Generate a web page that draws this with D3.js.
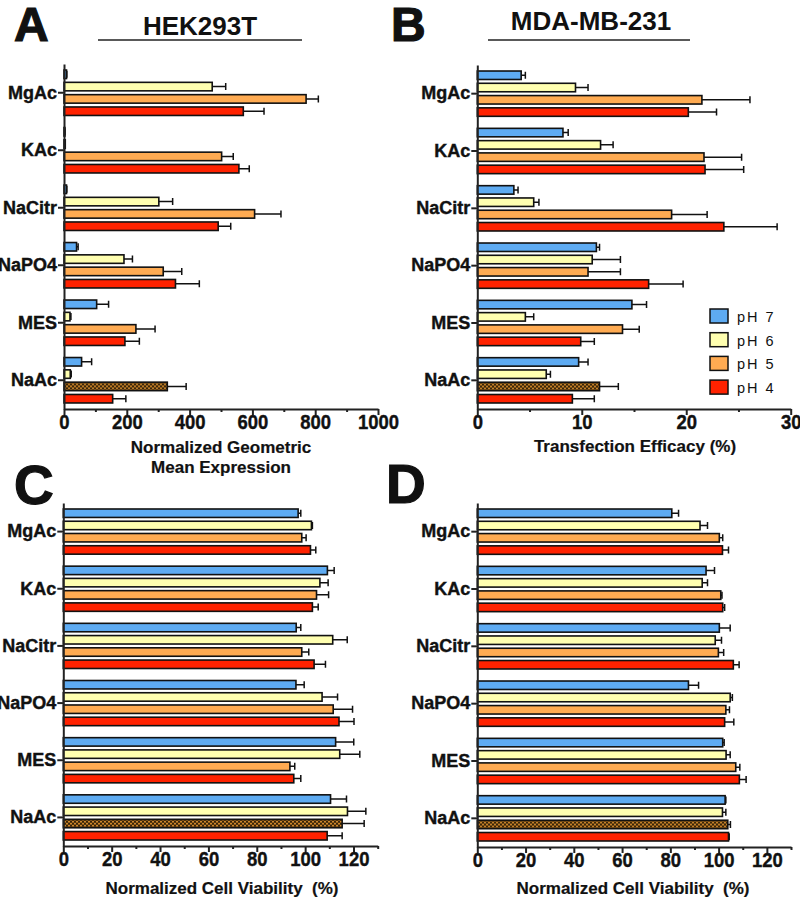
<!DOCTYPE html>
<html>
<head>
<meta charset="utf-8">
<script src="https://cdn.jsdelivr.net/npm/d3@7"></script>
<style>
body { margin: 0; background: #fff; }
svg text { font-family: "Liberation Sans", Arial, Helvetica, sans-serif; fill: #111; white-space: pre; }
</style>
</head>
<body>
<svg id="fig" width="800" height="902"></svg>
<script>
var categories = ["MgAc", "KAc", "NaCitr", "NaPO4", "MES", "NaAc"];
var phLabels = ["pH 7", "pH 6", "pH 5", "pH 4"];
var phColors = ["#5eabf2", "#ffffb0", "#ffab52", "#ff2200"];

// one row per category, columns are pH 7, 6, 5, 4
var hekExpr = [
    [8, 472, 771, 571],
    [3, 4, 502, 557],
    [8, 302, 607, 491],
    [40, 191, 316, 355],
    [104, 19, 229, 194],
    [56, 20, 329, 155]
];
var hekExprSd = [
    [1, 43, 39, 66],
    [0, 0, 37, 33],
    [1, 44, 84, 40],
    [5, 27, 59, 76],
    [38, 3, 61, 46],
    [32, 3, 60, 42]
];

var mdaEff = [
    [4.2, 9.4, 21.5, 20.2],
    [8.2, 11.8, 21.7, 21.8],
    [3.5, 5.4, 18.6, 23.6],
    [11.4, 11.0, 10.6, 16.4],
    [14.8, 4.6, 13.9, 9.9],
    [9.7, 6.6, 11.7, 9.1]
];
var mdaEffSd = [
    [0.4, 1.2, 4.6, 2.7],
    [0.5, 1.2, 3.6, 3.7],
    [0.4, 0.5, 3.4, 5.1],
    [0.3, 2.7, 3.1, 3.3],
    [1.4, 0.8, 1.6, 1.3],
    [0.9, 0.4, 1.8, 2.1]
];

var hekViab = [
    [97.1, 102.6, 98.6, 102.2],
    [109.2, 106.1, 104.7, 103.0],
    [96.3, 111.4, 98.6, 103.7],
    [96.2, 107.0, 111.6, 114.0],
    [112.6, 114.3, 93.7, 95.3],
    [110.5, 117.5, 115.3, 109.1]
];
var hekViabSd = [
    [1.1, 0.4, 1.8, 2.2],
    [2.8, 3.4, 5.0, 2.4],
    [1.9, 6.0, 2.9, 4.7],
    [3.4, 6.4, 8.0, 6.2],
    [7.5, 8.3, 2.0, 2.9],
    [6.6, 7.6, 9.1, 6.2]
];

var mdaViab = [
    [80.6, 92.3, 100.3, 101.6],
    [94.8, 93.2, 100.9, 101.7],
    [100.3, 98.6, 99.9, 106.1],
    [87.5, 104.8, 103.0, 102.5],
    [101.7, 103.1, 107.1, 108.6],
    [102.7, 101.6, 103.8, 104.1]
];
var mdaViabSd = [
    [2.8, 3.1, 1.4, 2.5],
    [3.5, 2.2, 0.5, 0.8],
    [4.5, 2.6, 2.2, 2.4],
    [4.2, 0.9, 1.5, 3.8],
    [0.6, 1.7, 1.7, 2.8],
    [0.3, 1.4, 1.1, 0.3]
];

var exprTicks = [0, 200, 400, 600, 800, 1000];
var exprMinor = [100, 300, 500, 700, 900];
var effTicks = [0, 10, 20, 30];
var effMinor = [5, 15, 25];
var viabTicks = [0, 20, 40, 60, 80, 100, 120];
var viabMinor = [10, 30, 50, 70, 90, 110, 130];

var svg = d3.select("#fig");

// dark checkered fill used for the NaAc pH 5 bar
var pat = svg.append("defs").append("pattern")
    .attr("id", "hatch")
    .attr("patternUnits", "userSpaceOnUse")
    .attr("width", 4).attr("height", 4);
pat.append("rect").attr("width", 4).attr("height", 4).attr("fill", "#3a2508");
pat.append("rect").attr("x", 0).attr("y", 0).attr("width", 2).attr("height", 1.6).attr("fill", "#d98e2e");
pat.append("rect").attr("x", 2).attr("y", 2).attr("width", 2).attr("height", 1.6).attr("fill", "#d98e2e");

function drawPanel(o) {
    var g = svg.append("g");

    var x = d3.scaleLinear().domain([0, o.max]).range([o.left, o.right]);
    var y0 = d3.scaleBand().domain(categories).range([o.top, o.bottom]);
    var y1 = d3.scaleBand().domain(phLabels).range([0, y0.bandwidth()])
        .paddingInner(0.31).paddingOuter(0.49);

    var groups = g.selectAll("g.grp")
        .data(categories)
        .join("g")
        .classed("grp", true)
        .attr("transform", function(d) { return "translate(0," + y0(d) + ")"; });

    var items = groups.selectAll("g.item")
        .data(function(c, i) {
            return phLabels.map(function(p, j) {
                return { cat: c, ph: p, j: j, v: o.means[i][j], sd: o.sds[i][j] };
            });
        })
        .join("g")
        .classed("item", true);

    // error bar first, bar drawn over it
    items.append("path")
        .attr("d", function(d) {
            var yc = y1(d.ph) + y1.bandwidth() / 2;
            var xe = x(d.v + d.sd);
            return "M" + x(d.v) + "," + yc + "H" + xe +
                "M" + xe + "," + (yc - 3.5) + "V" + (yc + 3.5);
        })
        .style("fill", "none")
        .style("stroke", "#111")
        .style("stroke-width", "1.5px");

    items.append("rect")
        .attr("x", x(0))
        .attr("y", function(d) { return y1(d.ph); })
        .attr("width", function(d) { return x(d.v) - x(0); })
        .attr("height", y1.bandwidth())
        .style("fill", function(d) {
            if (d.cat == "NaAc" && d.j == 2) return "url(#hatch)";
            return phColors[d.j];
        })
        .style("stroke", "#111")
        .style("stroke-width", "1.6px");

    // x axis, major then minor ticks
    var xa = g.append("g")
        .attr("transform", "translate(0," + o.bottom + ")")
        .call(d3.axisBottom(x).tickValues(o.ticks).tickFormat(d3.format("d"))
            .tickSize(6).tickSizeOuter(0));
    xa.selectAll("text")
        .attr("y", 20).attr("dy", null)
        .style("font-size", "21px")
        .style("font-weight", "bold")
        .style("stroke", "#111")
        .style("stroke-width", "0.4px")
        .attr("transform", "scale(0.88,1)");
    g.append("g")
        .attr("transform", "translate(0," + o.bottom + ")")
        .call(d3.axisBottom(x).tickValues(o.minor).tickSize(3).tickFormat(""))
        .select(".domain").remove();

    var ya = g.append("g")
        .attr("transform", "translate(" + o.left + ",0)")
        .call(d3.axisLeft(y0).tickSize(6).tickPadding(1).tickSizeOuter(0));
    ya.selectAll("text")
        .style("font-size", "18px")
        .style("font-weight", "bold")
        .style("stroke", "#111")
        .style("stroke-width", "0.4px");

    g.selectAll(".domain, .tick line")
        .style("stroke", "#222")
        .style("stroke-width", "2px");

    o.title.forEach(function(t, i) {
        g.append("text")
            .attr("x", o.titleX)
            .attr("y", o.titleY + i * 20)
            .attr("text-anchor", "middle")
            .style("font-size", "17px")
            .style("font-weight", "bold")
            .style("stroke", "#111")
            .style("stroke-width", "0.2px")
            .text(t);
    });
}

drawPanel({ left: 64, right: 378, top: 64, bottom: 409, max: 1000,
    ticks: exprTicks, minor: exprMinor, means: hekExpr, sds: hekExprSd,
    title: ["Normalized Geometric", "Mean Expression"], titleX: 221, titleY: 453 });
drawPanel({ left: 477.3, right: 790.7, top: 65, bottom: 409, max: 30,
    ticks: effTicks, minor: effMinor, means: mdaEff, sds: mdaEffSd,
    title: ["Transfection Efficacy (%)"], titleX: 635, titleY: 452 });
drawPanel({ left: 63.3, right: 377.7, top: 503, bottom: 846, max: 130,
    ticks: viabTicks, minor: viabMinor, means: hekViab, sds: hekViabSd,
    title: ["Normalized Cell Viability  (%)"], titleX: 222, titleY: 894 });
drawPanel({ left: 477.3, right: 791, top: 503, bottom: 847, max: 130,
    ticks: viabTicks, minor: viabMinor, means: mdaViab, sds: mdaViabSd,
    title: ["Normalized Cell Viability  (%)"], titleX: 633, titleY: 894 });

// panel letters
var letters = [["A", 14, 41, 48], ["B", 391, 41, 48], ["C", 14, 504, 55], ["D", 386, 503, 55]];
svg.selectAll("text.letter")
    .data(letters)
    .join("text")
    .classed("letter", true)
    .attr("x", function(d) { return d[1]; })
    .attr("y", function(d) { return d[2]; })
    .style("font-size", function(d) { return d[3] + "px"; })
    .style("font-weight", "bold")
    .style("stroke", "#111")
    .style("stroke-width", "1.2px")
    .text(function(d) { return d[0]; });

// cell line headings with rules under them
var heads = [["HEK293T", 200, 35, 98, 302], ["MDA-MB-231", 591, 30, 488, 690]];
heads.forEach(function(h) {
    svg.append("text")
        .attr("x", h[1]).attr("y", h[2])
        .attr("text-anchor", "middle")
        .style("font-size", "26px")
        .style("font-weight", "bold")
        .text(h[0]);
    svg.append("line")
        .attr("x1", h[3]).attr("x2", h[4])
        .attr("y1", 40).attr("y2", 40)
        .style("stroke", "#222")
        .style("stroke-width", "1.5px");
});

// legend inside panel B
var leg = svg.append("g").attr("transform", "translate(710,309)");
var li = leg.selectAll("g")
    .data(phLabels)
    .join("g")
    .attr("transform", function(d, i) { return "translate(0," + (i * 23.7) + ")"; });
li.append("rect")
    .attr("width", 18).attr("height", 14)
    .style("fill", function(d, i) { return phColors[i]; })
    .style("stroke", "#111")
    .style("stroke-width", "1.5px");
li.append("text")
    .attr("x", 27).attr("y", 13)
    .style("font-size", "14.5px")
    .style("letter-spacing", "2px")
    .text(function(d) { return d; });
</script>
</body>
</html>
